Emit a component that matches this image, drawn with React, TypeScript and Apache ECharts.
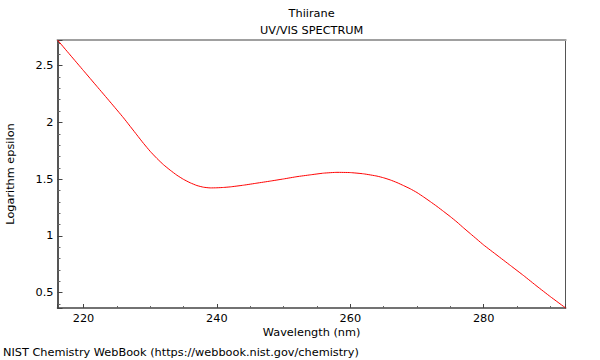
import React, { useEffect, useRef } from "react";
import * as echarts from "echarts";

const titleMain = "Thiirane";
const titleSub = "UV/VIS SPECTRUM";
const xLabel = "Wavelength (nm)";
const yLabel = "Logarithm epsilon";
const footer = "NIST Chemistry WebBook (https://webbook.nist.gov/chemistry)";

const wavelengths = [216.1, 218, 220, 222, 224, 226, 228, 229, 230, 231, 232, 233, 234, 235, 236, 237, 238, 239, 240, 241, 242, 244, 246, 248, 250, 252, 254, 256, 258, 260, 262, 264, 265, 266, 267, 268, 269, 270, 271, 272, 273, 274, 275, 276, 277, 278, 279, 280, 282, 284, 286, 288, 290, 292.3];
const logEpsilon = [2.726, 2.594, 2.456, 2.318, 2.18, 2.04, 1.89, 1.815, 1.745, 1.683, 1.627, 1.579, 1.535, 1.498, 1.468, 1.444, 1.429, 1.423, 1.424, 1.427, 1.432, 1.447, 1.465, 1.483, 1.502, 1.522, 1.538, 1.553, 1.56, 1.558, 1.547, 1.527, 1.512, 1.493, 1.47, 1.443, 1.415, 1.382, 1.343, 1.302, 1.26, 1.215, 1.17, 1.122, 1.07, 1.02, 0.97, 0.92, 0.83, 0.74, 0.65, 0.556, 0.465, 0.365];

const xMin = 216.1;
const xMax = 292.3;
const yMin = 0.365;
const yMax = 2.726;

const FONT = "DejaVu Sans";
const FS = 11.3;

export default function App() {
  const ref = useRef<HTMLDivElement>(null);
  useEffect(() => {
    if (!ref.current) return;
    const chart = echarts.init(ref.current, null, { renderer: "svg" });
    const data = wavelengths.map((w, i) => [w, logEpsilon[i]]);
    chart.setOption({
      animation: false,
      grid: { left: 57.5, right: 34.3, top: 40, bottom: 52, containLabel: false },
      xAxis: [
        {
          type: "value",
          min: xMin,
          max: xMax,
          minInterval: 20,
          maxInterval: 20,
          position: "bottom",
          axisLine: { show: true, lineStyle: { color: "#444", width: 1.5 } },
          axisTick: { show: true, inside: true, length: 4, lineStyle: { color: "#444" } },
          minorTick: { show: true, splitNumber: 4, length: 2, lineStyle: { color: "#666" } },
          splitLine: { show: false },
          axisLabel: { show: true, margin: 5, color: "#000", fontFamily: FONT, fontSize: FS, showMinLabel: false, showMaxLabel: false },
        },
        {
          type: "value",
          min: xMin,
          max: xMax,
          position: "top",
          axisLine: { show: true, onZero: false, lineStyle: { color: "#a0a0a0", width: 2 } },
          axisTick: { show: false },
          axisLabel: { show: false },
          splitLine: { show: false },
        },
      ],
      yAxis: [
        {
          type: "value",
          min: yMin,
          max: yMax,
          minInterval: 0.5,
          maxInterval: 0.5,
          position: "left",
          axisLine: { show: true, lineStyle: { color: "#555", width: 2 } },
          axisTick: { show: true, inside: true, length: 5, lineStyle: { color: "#444" } },
          minorTick: { show: true, splitNumber: 5, length: 3, lineStyle: { color: "#666" } },
          splitLine: { show: false },
          axisLabel: { show: true, margin: 4, color: "#000", fontFamily: FONT, fontSize: FS, showMinLabel: false, showMaxLabel: false },
        },
        {
          type: "value",
          min: yMin,
          max: yMax,
          position: "right",
          axisLine: { show: true, onZero: false, lineStyle: { color: "#555", width: 1 } },
          axisTick: { show: false },
          axisLabel: { show: false },
          splitLine: { show: false },
        },
      ],
      series: [
        {
          type: "line",
          data,
          xAxisIndex: 0,
          yAxisIndex: 0,
          showSymbol: false,
          symbol: "none",
          smooth: 0.15,
          lineStyle: { color: "#ff0000", width: 1 },
        },
      ],
      graphic: [
        { type: "text", x: 311.6, y: 13, style: { text: titleMain, fontFamily: FONT, fontSize: FS, fill: "#000", align: "center", verticalAlign: "middle" } },
        { type: "text", x: 311.6, y: 30, style: { text: titleSub, fontFamily: FONT, fontSize: FS, fill: "#000", align: "center", verticalAlign: "middle" } },
        { type: "text", x: 311.6, y: 332, style: { text: xLabel, fontFamily: FONT, fontSize: FS, fill: "#000", align: "center", verticalAlign: "middle" } },
        { type: "text", x: 10, y: 174, rotation: Math.PI / 2, style: { text: yLabel, fontFamily: FONT, fontSize: FS, fill: "#000", align: "center", verticalAlign: "middle" } },
        { type: "text", x: 3, y: 352, style: { text: footer, fontFamily: FONT, fontSize: FS, fill: "#000", align: "left", verticalAlign: "middle" } },
      ],
    });
    return () => chart.dispose();
  }, []);
  return <div ref={ref} style={{ width: 600, height: 360, position: "absolute", left: 0, top: 0 }} />;
}
